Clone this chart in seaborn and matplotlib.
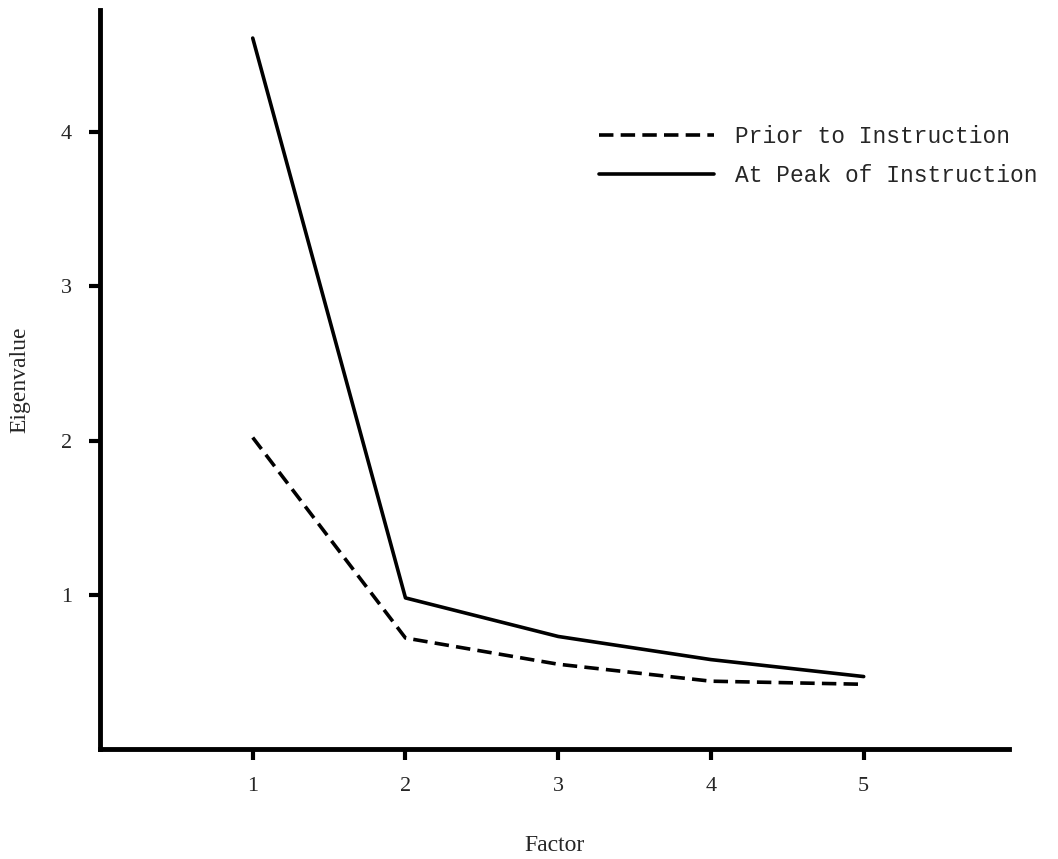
import numpy as np
import pandas as pd
import seaborn as sns
from matplotlib import pyplot as plt

factors = [1, 2, 3, 4, 5]
prior = [2.02, 0.72, 0.55, 0.44, 0.42]
peak = [4.61, 0.98, 0.73, 0.58, 0.47]
series_names = ["Prior to Instruction", "At Peak of Instruction"]

df = pd.DataFrame({
    "Factor": factors * 2,
    "Eigenvalue": prior + peak,
    "Series": [series_names[0]] * 5 + [series_names[1]] * 5,
})

sns.set_style("white")
plt.rcParams["font.family"] = ["Liberation Serif", "DejaVu Serif"]

fig = plt.figure(figsize=(10.58, 8.59), dpi=100)
ax = fig.add_axes([0.0945, 0.128, 0.859, 0.86])

sns.lineplot(
    data=df, x="Factor", y="Eigenvalue", style="Series",
    style_order=series_names,
    dashes={series_names[0]: (4, 2), series_names[1]: ""},
    color="black", linewidth=2.6, ax=ax,
)

ax.set_xlim(0, 5.95)
ax.set_ylim(0, 4.79)
ax.set_xticks(factors)
ax.set_yticks([1, 2, 3, 4])
ax.tick_params(direction="out", length=8, width=3, labelsize=16,
               color="black", left=True, bottom=True, pad=12)
for side in ["top", "right"]:
    ax.spines[side].set_visible(False)
for side in ["left", "bottom"]:
    ax.spines[side].set_linewidth(3.5)
    ax.spines[side].set_color("black")

ax.set_xlabel("Factor", fontsize=17, labelpad=28)
ax.set_ylabel("Eigenvalue", fontsize=17, labelpad=22)

ax.legend(
    title=None, frameon=False, loc="upper left",
    bbox_to_anchor=(0.547, 0.878), bbox_transform=fig.transFigure,
    prop={"family": "Liberation Mono", "size": 16.5},
    handlelength=5.0, handletextpad=0.9, labelspacing=0.7,
)

plt.savefig("out.png", dpi=100)
